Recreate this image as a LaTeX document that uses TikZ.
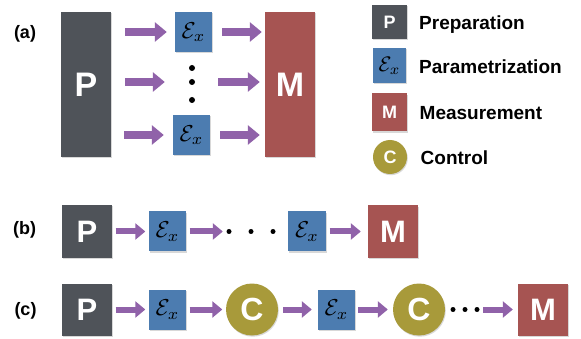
\documentclass[tikz,border=0pt]{standalone}
\usepackage{graphicx}
\usepackage{fontspec}
\setmainfont{Liberation Sans}
\usetikzlibrary{arrows.meta,shadows}
\definecolor{cP}{HTML}{4F5359}
\definecolor{cE}{HTML}{4C7CB0}
\definecolor{cM}{HTML}{A65452}
\definecolor{cC}{HTML}{A89A3A}
\definecolor{cA}{HTML}{9062A9}
\newcommand{\Ex}{\scalebox{2.3}{$\mathcal{E}_x$}}
\begin{document}
\begin{tikzpicture}[x=1pt,y=-1pt,
  shd/.style={drop shadow={shadow xshift=0.8pt,shadow yshift=-1.2pt,opacity=0.3}},
  blk/.style={shape=rectangle, inner sep=0pt, text=white, shd},
  fnt/.style={font=\bfseries\fontsize{#1}{#1}\selectfont},
  ebox/.style={blk, fill=cE, text=black, minimum width=37pt, minimum height=40pt},
  circ/.style={shape=circle, inner sep=0pt, text=white, fill=cC, shd},
  lab/.style={font=\bfseries\fontsize{18}{18}\selectfont, inner sep=0pt},
  leg/.style={font=\bfseries\fontsize{19}{19}\selectfont, inner sep=0pt, anchor=base west},
  dot/.style={shape=circle, fill=black, inner sep=0pt, minimum size=#1},
  dot/.default=5pt,
  conn/.style={draw=cA, line width=6pt, -{Triangle[length=10pt,width=16pt]}, shorten <=3.5pt, shorten >=3.5pt},
  bigconn/.style={conn, line width=7.5pt, -{Triangle[length=12pt,width=19pt]}},
]
\fill[white] (0,0) rectangle (581,339);
\useasboundingbox (0,0) rectangle (581,339);

% ---------- panel (a)
\node[lab] (la) at (25,33.7) {(a)};
\node[blk, fill=cP, minimum width=50pt, minimum height=145pt, fnt=34] (aP) at (86,84.5) {P};
\node[ebox] (aE1) at (193.5,32) {\Ex};
\node[ebox] (aE2) at (191.5,135) {\Ex};
\node[blk, fill=cM, minimum width=50pt, minimum height=145pt, fnt=34] (aM) at (290,84.5) {M};
\node[dot=6pt] (ad1) at (192,68) {};
\node[dot=6pt] (ad2) at (192,82) {};
\node[dot=6pt] (ad3) at (192,100) {};
\draw[bigconn, shorten <=14pt, shorten >=8pt] (aP.east |- aE1) -- (aE1.west);
\draw[bigconn, shorten <=14pt, shorten >=24pt] (aP.east |- ad2) -- (ad2);
\draw[bigconn, shorten <=13pt, shorten >=9pt] (aP.east |- aE2) -- (aE2.west);
\draw[bigconn, shorten <=10pt, shorten >=3pt] (aE1.east) -- (aM.west |- aE1);
\draw[bigconn, shorten <=23pt, shorten >=5pt] (ad2) -- (aM.west |- ad2);
\draw[bigconn, shorten <=10pt, shorten >=5pt] (aE2.east) -- (aM.west |- aE2);

% ---------- legend
\node[blk, fill=cP, minimum width=35pt, minimum height=34pt, fnt=18] (lP) at (389.5,22) {P};
\node[ebox, minimum width=33pt, minimum height=35pt] (lE) at (389.5,65.5) {\scalebox{2.1}{$\mathcal{E}_x$}};
\node[blk, fill=cM, minimum width=35pt, minimum height=38pt, fnt=18] (lM) at (389.5,112.5) {M};
\node[circ, minimum size=34pt, fnt=18] (lC) at (390,157) {C};
\node[leg] (tP) at (419,29.5) {Preparation};
\node[leg] (tE) at (419,74) {Parametrization};
\node[leg] (tM) at (419.5,120) {Measurement};
\node[leg] (tC) at (420.5,165) {Control};

% ---------- panel (b)
\node[lab] (lb) at (24.7,230) {(b)};
\node[blk, fill=cP, minimum width=50pt, minimum height=53pt, fnt=31] (bP) at (87,231.5) {P};
\node[ebox] (bE1) at (167.5,231.5) {\Ex};
\node[dot] (bd1) at (229,231.5) {};
\node[dot] (bd2) at (251,231.5) {};
\node[dot] (bd3) at (273,231.5) {};
\node[ebox, minimum width=38pt] (bE2) at (307,231.5) {\Ex};
\node[blk, fill=cM, minimum width=50pt, minimum height=52pt, fnt=31] (bM) at (393,231.5) {M};
\draw[conn] (bP) -- (bE1);
\draw[conn] (bE1) -- (bd1);
\draw[conn, shorten >=7pt] (bE2) -- (bM);

% ---------- panel (c)
\node[lab] (lc) at (25.5,310.5) {(c)};
\node[blk, fill=cP, minimum width=50pt, minimum height=52pt, fnt=31] (cP) at (87,309.5) {P};
\node[ebox] (cE1) at (167.5,309.5) {\Ex};
\node[circ, minimum size=52pt, fnt=32] (cC1) at (252,309.5) {C};
\node[ebox] (cE2) at (336.5,309.5) {\Ex};
\node[circ, minimum size=52pt, fnt=32] (cC2) at (419,309.5) {C};
\node[dot] (cd1) at (453,309.5) {};
\node[dot] (cd2) at (465,309.5) {};
\node[dot] (cd3) at (477,309.5) {};
\node[blk, fill=cM, minimum width=50pt, minimum height=52pt, fnt=31] (cM) at (543,309.5) {M};
\draw[conn] (cP) -- (cE1);
\draw[conn] (cE1) -- (cC1);
\draw[conn, shorten <=5pt, shorten >=6pt] (cC1) -- (cE2);
\draw[conn, shorten <=3pt, shorten >=5pt] (cE2) -- (cC2);
\draw[conn, shorten >=5pt] (cd3) -- (cM);
\end{tikzpicture}
\end{document}
